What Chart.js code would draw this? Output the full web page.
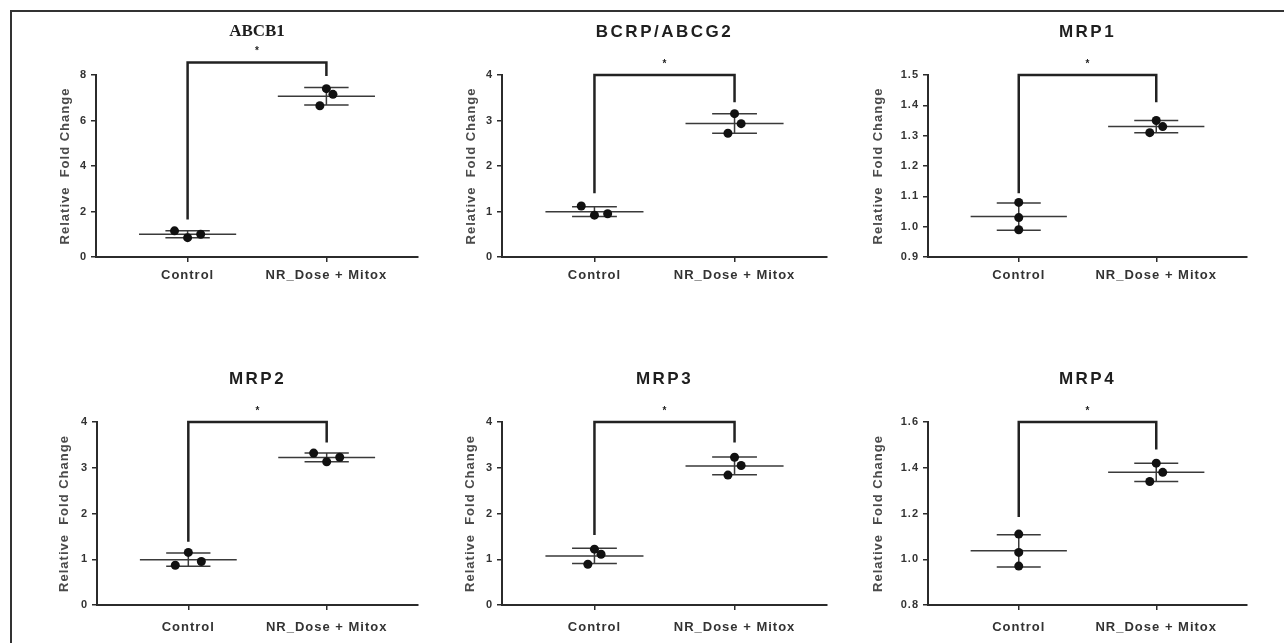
<!DOCTYPE html>
<html>
<head>
<meta charset="utf-8">
<script src="https://cdn.jsdelivr.net/npm/chart.js@4.4.1/dist/chart.umd.min.js"></script>
<style>
  body { margin: 0; background: #fff; width: 1284px; height: 643px; overflow: hidden; position: relative; }
  #frame { position: absolute; left: 10px; top: 10px; width: 1300px; height: 660px;
           border-top: 2px solid #333; border-left: 2px solid #333; }
  canvas { position: absolute; }
</style>
</head>
<body>
<div id="frame"></div>

<script>
// groups on the x axis
var groupLabels = ["Control", "NR_Dose + Mitox"];
var panelTitles = ["ABCB1", "BCRP/ABCG2", "MRP1", "MRP2", "MRP3", "MRP4"];

// replicate values (relative fold change)
var abcb1Control = [0.85, 1.00, 1.15];
var abcb1Mitox   = [7.40, 7.15, 6.65];
var bcrpControl  = [0.92, 0.95, 1.12];
var bcrpMitox    = [3.15, 2.93, 2.72];
var mrp1Control  = [1.08, 1.03, 0.99];
var mrp1Mitox    = [1.35, 1.33, 1.31];
var mrp2Control  = [1.15, 0.95, 0.87];
var mrp2Mitox    = [3.13, 3.23, 3.32];
var mrp3Control  = [1.22, 1.11, 0.89];
var mrp3Mitox    = [3.23, 3.05, 2.84];
var mrp4Control  = [1.11, 1.03, 0.97];
var mrp4Mitox    = [1.42, 1.38, 1.34];

// y axis ticks per panel
var yMin  = [0, 0, 0.9, 0, 0, 0.8];
var yMax  = [8, 4, 1.5, 4, 4, 1.6];
var yStep = [2, 1, 0.1, 1, 1, 0.2];

// significance bracket per panel: top, left foot, right foot
var bracketTop   = [8.55, 4.0, 1.5, 4.0, 4.0, 1.6];
var bracketLeft  = [1.65, 1.40, 1.11, 1.38, 1.53, 1.185];
var bracketRight = [7.96, 3.40, 1.41, 3.55, 3.55, 1.48];

var panelData = [
    [abcb1Control, abcb1Mitox],
    [bcrpControl, bcrpMitox],
    [mrp1Control, mrp1Mitox],
    [mrp2Control, mrp2Mitox],
    [mrp3Control, mrp3Mitox],
    [mrp4Control, mrp4Mitox]
];

// where each little chart sits on the page
var boxes = [
    { left: 58,  top: 10,  width: 382, height: 300, yw: 38, padTop: 65, padRight: 22, xh: 45, padBottom: 8, tickPad: 6 },
    { left: 464, top: 10,  width: 400, height: 300, yw: 38, padTop: 65, padRight: 37, xh: 45, padBottom: 8, tickPad: 6 },
    { left: 871, top: 10,  width: 413, height: 300, yw: 57, padTop: 65, padRight: 37, xh: 45, padBottom: 8, tickPad: 6 },
    { left: 57,  top: 330, width: 383, height: 313, yw: 40, padTop: 92, padRight: 22, xh: 35, padBottom: 3, tickPad: 10 },
    { left: 463, top: 330, width: 401, height: 313, yw: 39, padTop: 92, padRight: 37, xh: 35, padBottom: 3, tickPad: 10 },
    { left: 871, top: 330, width: 413, height: 313, yw: 57, padTop: 92, padRight: 37, xh: 35, padBottom: 3, tickPad: 10 }
];

var SANS = '"Liberation Sans", Arial, sans-serif';
var INK = '#2b2b2b';

function mean(a) {
    var s = 0;
    for (var i = 0; i < a.length; i++) s += a[i];
    return s / a.length;
}

function sd(a) {
    var m = mean(a), s = 0;
    for (var i = 0; i < a.length; i++) s += (a[i] - m) * (a[i] - m);
    return Math.sqrt(s / (a.length - 1));
}

// scatter-dot spreading: tight groups get their replicates pushed sideways
function spreadOffsets(values, range) {
    var pxPerUnit = 182 / range;
    var sorted = values.slice().sort(function(a, b) { return a - b; });
    var span = (sorted[sorted.length - 1] - sorted[0]) * pxPerUnit;
    if (span > 24) return values.map(function() { return 0; });
    var minGap = Infinity;
    for (var i = 1; i < sorted.length; i++) minGap = Math.min(minGap, (sorted[i] - sorted[i - 1]) * pxPerUnit);
    var stepPx = minGap < 4.5 ? 13 : 6.5;
    var slots = [0, 1, -1];
    return values.map(function(v, i) { return slots[i % 3] * stepPx / 138; });
}

function buildDatasets(p) {
    var range = yMax[p] - yMin[p];
    var dots = [];
    var bars = [];
    panelData[p].forEach(function(vals, g) {
        var cx = g + 1;
        var offs = spreadOffsets(vals, range);
        vals.forEach(function(v, i) { dots.push({ x: cx + offs[i], y: v }); });
        var m = mean(vals), s = sd(vals);
        bars.push({ x: cx - 0.35, y: m }, { x: cx + 0.35, y: m }, { x: cx, y: null });
        bars.push({ x: cx - 0.16, y: m + s }, { x: cx + 0.16, y: m + s }, { x: cx, y: null });
        bars.push({ x: cx - 0.16, y: m - s }, { x: cx + 0.16, y: m - s }, { x: cx, y: null });
        bars.push({ x: cx, y: m - s }, { x: cx, y: m + s }, { x: cx, y: null });
    });
    var bracket = [
        { x: 1, y: bracketLeft[p] }, { x: 1, y: bracketTop[p] },
        { x: 2, y: bracketTop[p] }, { x: 2, y: bracketRight[p] }
    ];
    return [
        { label: 'replicates', data: dots, pointRadius: 4.5, pointBackgroundColor: '#111',
          pointBorderWidth: 0, showLine: false },
        { label: 'mean and SD', data: bars, showLine: true, spanGaps: false, pointRadius: 0,
          borderColor: '#3a3a3a', borderWidth: 1.5 },
        { label: 'bracket', data: bracket, showLine: true, pointRadius: 0, clip: false,
          borderColor: '#222', borderWidth: 2.5, borderJoinStyle: 'miter' }
    ];
}

// title over the plot area and the star over the bracket
var panelDecor = {
    id: 'panelDecor',
    beforeDraw: function(chart) {
        chart.ctx.letterSpacing = '1px';
    },
    afterDraw: function(chart, args, opts) {
        var ctx = chart.ctx, area = chart.chartArea;
        var xs = chart.scales.x, ys = chart.scales.y;
        ctx.save();
        ctx.fillStyle = '#1e1e1e';
        ctx.textAlign = 'center';
        ctx.textBaseline = 'middle';
        if (opts.serif) {
            ctx.letterSpacing = '0px';
            ctx.font = 'bold 17px "Liberation Serif", "Times New Roman", serif';
        } else {
            ctx.letterSpacing = '2.5px';
            ctx.font = 'bold 17px ' + SANS;
        }
        ctx.fillText(opts.title, (area.left + area.right) / 2, area.top - 43);
        ctx.letterSpacing = '0px';
        ctx.font = 'bold 10px ' + SANS;
        ctx.fillText('*', xs.getPixelForValue(1.5), ys.getPixelForValue(opts.starAt) - 11);
        ctx.restore();
    }
};

panelTitles.forEach(function(title, p) {
    var b = boxes[p];
    var canvas = document.createElement('canvas');
    canvas.width = b.width;
    canvas.height = b.height;
    canvas.style.left = b.left + 'px';
    canvas.style.top = b.top + 'px';
    document.body.appendChild(canvas);

    var decimals = yStep[p] < 1 ? 1 : 0;

    new Chart(canvas, {
        type: 'scatter',
        data: { datasets: buildDatasets(p) },
        plugins: [panelDecor],
        options: {
            responsive: false,
            animation: false,
            events: [],
            layout: { padding: { top: b.padTop, right: b.padRight, bottom: b.padBottom, left: 0 } },
            plugins: {
                legend: { display: false },
                tooltip: { enabled: false },
                panelDecor: { title: title, serif: p === 0, starAt: bracketTop[p] }
            },
            scales: {
                x: {
                    type: 'linear',
                    min: 0.34,
                    max: 2.66,
                    afterFit: function(s) { s.height = b.xh; },
                    afterBuildTicks: function(s) { s.ticks = [{ value: 1 }, { value: 2 }]; },
                    grid: { drawOnChartArea: false, drawTicks: true, tickLength: 5, color: INK, lineWidth: 1.5 },
                    border: { display: true, color: INK, width: 2 },
                    ticks: {
                        autoSkip: false, maxRotation: 0, padding: b.tickPad, color: '#333',
                        font: { family: SANS, size: 13, weight: 'bold' },
                        callback: function(v) { return groupLabels[Math.round(v) - 1] || ''; }
                    }
                },
                y: {
                    min: yMin[p],
                    max: yMax[p],
                    afterFit: function(s) { s.width = b.yw; },
                    grid: { drawOnChartArea: false, drawTicks: true, tickLength: 5, color: INK, lineWidth: 1.5 },
                    border: { display: true, color: INK, width: 2 },
                    ticks: {
                        stepSize: yStep[p], padding: 4, color: '#333',
                        font: { family: SANS, size: 11, weight: 'bold' },
                        callback: function(v) { return Number(v).toFixed(decimals); }
                    },
                    title: {
                        display: true, text: 'Relative  Fold Change', color: '#4a4a4a',
                        padding: 0, font: { family: SANS, size: 13, weight: 'bold' }
                    }
                }
            }
        }
    });
});
</script>
</body>
</html>
